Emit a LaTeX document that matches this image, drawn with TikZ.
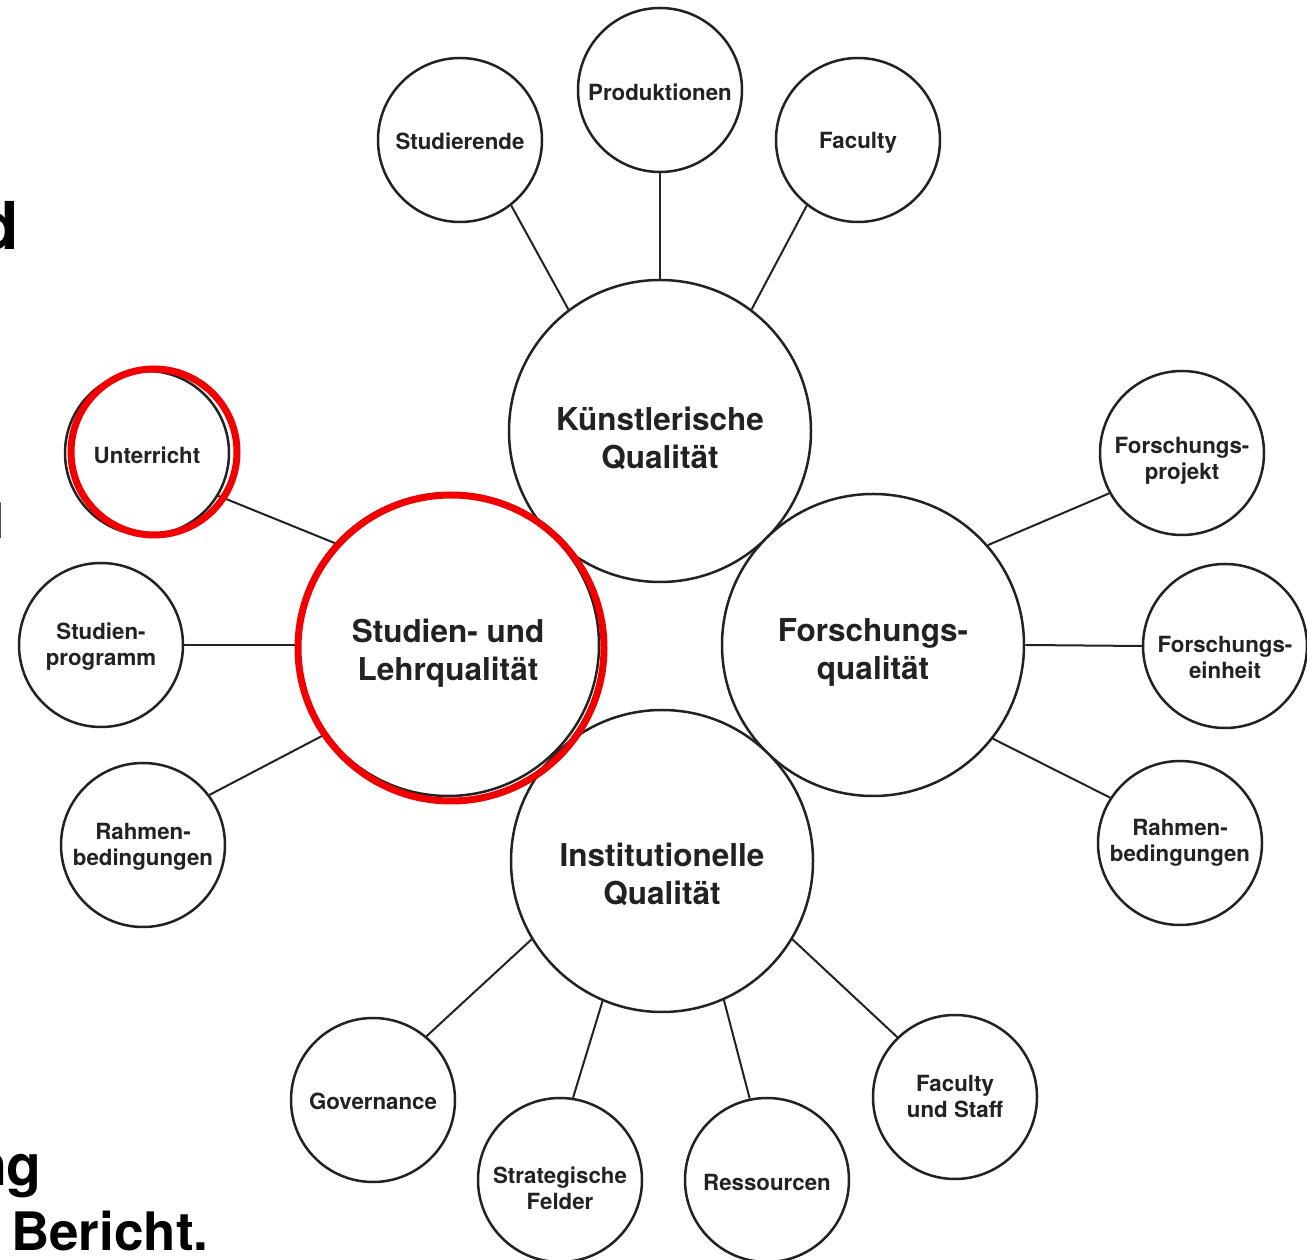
\documentclass[tikz,border=0pt]{standalone}
\usepackage{fontspec}
\setmainfont{TeX Gyre Heros}
\definecolor{linie}{HTML}{222222}
\definecolor{rotmark}{HTML}{F20000}

\newcommand{\gross}{\fontsize{31.5}{38}\selectfont\bfseries}
\newcommand{\klein}{\fontsize{22.3}{26}\selectfont\bfseries}
\newcommand{\folietitel}{\fontsize{66}{70}\selectfont\bfseries}
\newcommand{\folietext}{\fontsize{53}{56}\selectfont\bfseries}

\begin{document}
\begin{tikzpicture}[
    x=1pt, y=1pt,
    verbind/.style={line width=2pt, draw=linie},
    haupt/.style={circle, draw=linie, line width=2.5pt, fill=white,
      minimum size=302pt, inner sep=0pt},
    kreis/.style={circle, draw=linie, line width=2.5pt, fill=white,
      minimum size=164pt, inner sep=0pt},
    htext/.style={inner sep=0pt, text=linie, align=center, font=\gross},
    ktext/.style={inner sep=0pt, text=linie, align=center, font=\klein},
    markiert/.style={circle, draw=rotmark, line width=7pt, inner sep=0pt},
    folie/.style={inner sep=0pt, text=black}
  ]
  \useasboundingbox (0,0) rectangle (1307,1259);
  \clip (0,0) rectangle (1307,1259);

  % die vier Hauptkreise
  \node[haupt, label={[htext, yshift=-7pt]center:K\"unstlerische\\Qualit\"at}]
    (kq) at (660,828) {};
  \node[haupt, label={[htext, yshift=-7pt]center:Forschungs-\\qualit\"at}]
    (fq) at (873,614) {};
  \node[haupt, label={[htext, yshift=-13pt]center:Institutionelle\\Qualit\"at}]
    (iq) at (662,398) {};
  \node[haupt, label={[htext, yshift=-8pt]center:Studien- und\\Lehrqualit\"at}]
    (slq) at (448,614) {};

  % kleine Kreise
  \node[kreis, label={[ktext, yshift=-1pt]center:Studierende}] (stud) at (460,1119) {};
  \node[kreis, label={[ktext, yshift=-2pt]center:Produktionen}] (prod) at (660,1169) {};
  \node[kreis, label={[ktext, yshift=-3pt]center:Faculty}] (fac) at (858,1119) {};
  \node[kreis, label={[ktext, yshift=-2pt]center:Unterricht}] (unt) at (147,806) {};
  \node[kreis, label={[ktext, yshift=-2pt]center:Studien-\\programm}] (prog) at (101,614) {};
  \node[kreis, label={[ktext, yshift=-2pt]center:Rahmen-\\bedingungen}] (rbl) at (143,414) {};
  \node[kreis, label={[ktext, yshift=-8pt]center:Forschungs-\\projekt}] (proj) at (1182,806) {};
  \node[kreis, label={[ktext, yshift=-11pt]center:Forschungs-\\einheit}] (einh) at (1225,613) {};
  \node[kreis, label={[ktext]center:Rahmen-\\bedingungen}] (rbr) at (1180,416) {};
  \node[kreis, label={[ktext, yshift=-1pt]center:Governance}] (gov) at (373,159) {};
  \node[kreis, label={[ktext, yshift=-8pt]center:Strategische\\Felder}] (strat) at (560,79) {};
  \node[kreis, label={[ktext, yshift=-2pt]center:Ressourcen}] (ress) at (767,79) {};
  \node[kreis, label={[ktext]center:Faculty\\und Staff}] (fus) at (955,162) {};

  \draw[verbind] (kq.127) -- (stud.-52);
  \draw[verbind] (kq.90) -- (prod.-90);
  \draw[verbind] (kq.53) -- (fac.-128);
  \draw[verbind] (slq.138) -- (unt.-31);
  \draw[verbind] (slq.180) -- (prog.0);
  \draw[verbind] (slq.216) -- (rbl.37);
  \draw[verbind] (fq.41) -- (proj.209);
  \draw[verbind] (fq.0) -- (einh.180);
  \draw[verbind] (fq.-38) -- (rbr.147);
  \draw[verbind] (iq.211) -- (gov.50);
  \draw[verbind] (iq.247) -- (strat.81);
  \draw[verbind] (iq.294) -- (ress.102);
  \draw[verbind] (iq.-31) -- (fus.134);

  % rote Markierungen
  \node[markiert, minimum size=306pt] (rotslq) at (451,611) {};
  \node[markiert, minimum size=166pt] (rotunt) at (154,807) {};

  % Reste der Folie am linken Rand
  \node[folie, font=\folietitel, anchor=base east] (fd) at (19,1009) {d};
  \node[folie, font=\folietitel, anchor=base east] (fu) at (6.5,720) {u};
  \node[folie, font=\fontsize{57}{60}\selectfont\bfseries, anchor=base east] (fng) at (42,74) {ng};
  \node[folie, font=\folietext, anchor=base west] (fbericht) at (11,9) {Bericht.};
\end{tikzpicture}
\end{document}
